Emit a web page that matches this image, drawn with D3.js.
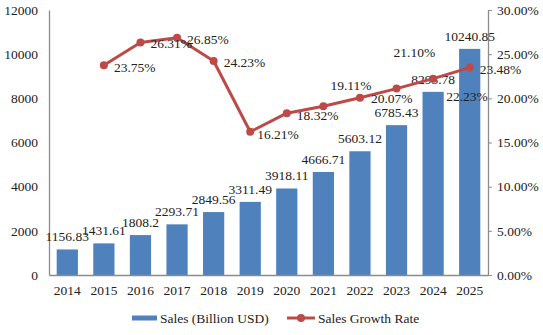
<!DOCTYPE html>
<html>
<head>
<meta charset="utf-8">
<script src="https://cdn.jsdelivr.net/npm/d3@7"></script>
<style>
  body { margin: 0; background: #fff; }
  text { font-family: "Liberation Serif", "Times New Roman", serif; fill: #222; }
</style>
</head>
<body>
<svg id="chart" width="543" height="335"></svg>
<script>
const years = ['2014', '2015', '2016', '2017', '2018', '2019', '2020', '2021', '2022', '2023', '2024', '2025'];
const sales = [1156.83, 1431.61, 1808.2, 2293.71, 2849.56, 3311.49, 3918.11, 4666.71, 5603.12, 6785.43, 8293.78, 10240.85];
const growth = [null, 23.75, 26.31, 26.85, 24.23, 16.21, 18.32, 19.11, 20.07, 21.10, 22.23, 23.48];
const leftTicks = [0, 2000, 4000, 6000, 8000, 10000, 12000];
const rightTicks = [0, 5, 10, 15, 20, 25, 30];

// label nudges (px) for the growth labels
const growthLabelShift = [null, [10, 2], [10, 1], [10, 1], [10, 1], [7, 2], [10, 2], [7, -21], [11, 1], [-3, -36], [13, 18], [10, 2]];

const margin = { top: 10, right: 55, bottom: 60, left: 49 };
const width = 543, height = 335;
const svg = d3.select('#chart');

const x = d3.scaleBand()
  .domain(years)
  .range([margin.left, width - margin.right])
  .paddingInner(0.42)
  .paddingOuter(0.21);

const y = d3.scaleLinear().domain([0, 12000]).range([height - margin.bottom, margin.top]);
const y2 = d3.scaleLinear().domain([0, 30]).range([height - margin.bottom, margin.top]);

const axisColor = '#8c8c8c';
const barColor = '#4f81bd';
const lineColor = '#bd4a47';

// left axis
const gl = svg.append('g')
  .attr('transform', `translate(${margin.left},0)`)
  .call(d3.axisLeft(y).tickValues(leftTicks).tickSize(0).tickPadding(11).tickFormat(d3.format('d')));
gl.select('.domain').attr('stroke', axisColor).attr('stroke-width', 1.3);
gl.selectAll('text').style('font-size', '13.5px').style('font-family', '"Liberation Serif", serif');

// right axis
const gr = svg.append('g')
  .attr('transform', `translate(${width - margin.right},0)`)
  .call(d3.axisRight(y2).tickValues(rightTicks).tickSize(4).tickSizeOuter(0).tickPadding(5).tickFormat(d => d.toFixed(2) + '%'));
gr.select('.domain').attr('stroke', axisColor).attr('stroke-width', 1.3);
gr.selectAll('.tick line').attr('stroke', axisColor);
gr.selectAll('text').style('font-size', '13.5px').style('font-family', '"Liberation Serif", serif');

// bars
svg.append('g')
  .selectAll('rect')
  .data(sales)
  .join('rect')
  .attr('x', (d, i) => x(years[i]))
  .attr('y', d => y(d))
  .attr('width', x.bandwidth())
  .attr('height', d => y(0) - y(d))
  .attr('fill', barColor);

// bottom axis
const gb = svg.append('g')
  .attr('transform', `translate(0,${height - margin.bottom})`)
  .call(d3.axisBottom(x).tickSize(0).tickPadding(10));
gb.select('.domain').attr('stroke', axisColor).attr('stroke-width', 1.3);
gb.selectAll('text').style('font-size', '13.5px').style('font-family', '"Liberation Serif", serif');

// bar labels
svg.append('g')
  .selectAll('text')
  .data(sales)
  .join('text')
  .attr('x', (d, i) => x(years[i]) + x.bandwidth() / 2)
  .attr('y', d => y(d) - 13)
  .attr('dy', '0.35em')
  .attr('text-anchor', 'middle')
  .style('font-size', '13.5px')
  .text(d => String(d));

// growth line
const pts = growth.map((g, i) => ({ year: years[i], g, i })).filter(d => d.g !== null);
const cx = d => x(d.year) + x.bandwidth() / 2;

svg.append('path')
  .datum(pts)
  .attr('fill', 'none')
  .attr('stroke', lineColor)
  .attr('stroke-width', 3)
  .attr('stroke-linejoin', 'round')
  .attr('d', d3.line().x(cx).y(d => y2(d.g)));

svg.append('g')
  .selectAll('circle')
  .data(pts)
  .join('circle')
  .attr('cx', cx)
  .attr('cy', d => y2(d.g))
  .attr('r', 4)
  .attr('fill', lineColor);

svg.append('g')
  .selectAll('text')
  .data(pts)
  .join('text')
  .attr('x', d => cx(d) + growthLabelShift[d.i][0])
  .attr('y', d => y2(d.g) + growthLabelShift[d.i][1])
  .attr('dy', '0.35em')
  .style('font-size', '13.5px')
  .text(d => d.g.toFixed(2) + '%');

// legend
const legend = svg.append('g').attr('transform', 'translate(0,318)');
legend.append('rect')
  .attr('x', 132).attr('y', -2.5).attr('width', 25).attr('height', 5)
  .attr('fill', barColor);
legend.append('text')
  .attr('x', 160).attr('dy', '0.35em')
  .style('font-size', '13.5px')
  .text('Sales (Billion USD)');
legend.append('line')
  .attr('x1', 287).attr('x2', 315)
  .attr('stroke', lineColor).attr('stroke-width', 3);
legend.append('circle')
  .attr('cx', 301).attr('r', 4).attr('fill', lineColor);
legend.append('text')
  .attr('x', 318).attr('dy', '0.35em')
  .style('font-size', '13.5px')
  .text('Sales Growth Rate');
</script>
</body>
</html>
